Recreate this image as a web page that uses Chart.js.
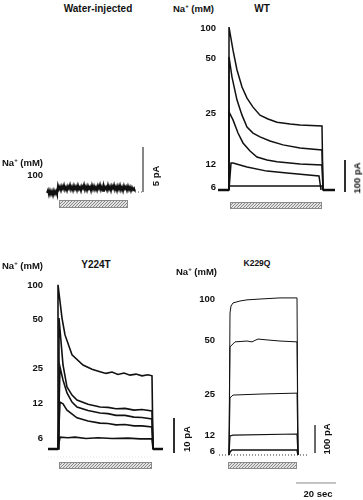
<!DOCTYPE html>
<html lang="en">
<head>
<meta charset="UTF-8" />
<title>Na+ evoked currents</title>
<script src="https://cdn.jsdelivr.net/npm/chart.js@4.4.0/dist/chart.umd.min.js"></script>
<style>
  body { margin: 0; background: #fff; }
  #fig { position: relative; width: 363px; height: 500px; overflow: hidden;
         font-family: "Liberation Sans", Arial, sans-serif; font-weight: bold; color: #111; }
  #fig canvas { position: absolute; }
  .t { position: absolute; font-size: 10px; line-height: 1; white-space: nowrap; }
  .c { transform: translate(-50%, -50%); }
  .l { transform: translateY(-50%); font-size: 9.5px; }
  .r { transform: translate(-50%, -50%) rotate(-90deg); font-size: 9.5px; }
  sup { font-size: 6px; vertical-align: 4px; }
</style>
</head>
<body>
<div id="fig">
  <canvas id="water" width="140" height="72" style="left:10px;top:140px"></canvas>
  <canvas id="wt" width="172" height="192" style="left:182px;top:20px"></canvas>
  <canvas id="y224t" width="170" height="197" style="left:10px;top:275px"></canvas>
  <canvas id="k229q" width="160" height="205" style="left:182px;top:285px"></canvas>

  <div class="t c" style="left:98px;top:9px">Water-injected</div>
  <div class="t c" style="left:262px;top:9px">WT</div>
  <div class="t c" style="left:96px;top:265px">Y224T</div>
  <div class="t c" style="left:257px;top:263px;font-size:8.5px">K229Q</div>

  <div class="t l" style="left:2px;top:162px">Na<sup>+</sup> (mM)</div>
  <div class="t l" style="left:173px;top:8px">Na<sup>+</sup> (mM)</div>
  <div class="t l" style="left:2px;top:265px">Na<sup>+</sup> (mM)</div>
  <div class="t l" style="left:176px;top:271px">Na<sup>+</sup> (mM)</div>

  <div class="t r" style="left:156px;top:176px">5 pA</div>
  <div class="t r" style="left:357px;top:178px">100 pA</div>
  <div class="t r" style="left:187px;top:439px">10 pA</div>
  <div class="t r" style="left:327px;top:439px">100 pA</div>
  <div class="t c" style="left:318px;top:494px;font-size:9.5px">20 sec</div>
</div>

<script>
// time in s (0 = Na+ applied), current in pA
const concs = ["100", "50", "25", "12", "6"];

// WT
const wt100 = [[-5.5,0],[0,0],[0,509],[2,437],[4,375],[6.5,322],[9,287],[12,259],[15.5,234],[19.5,222],[24,212],[30.5,206],[35.5,203],[46.5,200],[47,0],[53,0]];
const wt50 = [[0,0],[0,416],[1.5,353],[4,281],[6.5,234],[9,197],[12,178],[15.5,166],[20.5,153],[27,141],[35.5,131],[46.5,125],[47,0]];
const wt25 = [[0,0],[0,244],[2,219],[4.5,178],[7,147],[10.5,122],[14,103],[19,94],[24,88],[35.5,81],[46.5,78],[47,0]];
const wt12 = [[0,0],[1,84],[2,84],[9,72],[19,59],[29,53],[45,44],[46,0]];
const wt6 = [[0,0],[0,12.5],[46.5,12.5],[47,0]];

// Y224T
const y100 = [[-5,0],[0,0],[0,46.9],[2,37.4],[3.5,32.6],[7,26.9],[12.5,24],[17,22.8],[21,22.1],[24,21.6],[27,22],[30,21.3],[33,21.7],[36,21.1],[39,21.4],[42,20.9],[45,21.2],[47,20.9],[47.5,0],[52.5,0]];
const y50 = [[0,0],[0.5,37.4],[2.5,24],[4.5,17.7],[7,15.4],[9.5,14],[15,12.8],[21,12],[25,11.9],[29,11.5],[33.5,11.6],[38,11.1],[42,11.3],[47,10.9],[47.5,0]];
const y25 = [[0,0],[1,23.4],[2.5,19.7],[4.5,16],[7,13.4],[9.5,12],[15,11],[21,10.3],[25,10.1],[29,9.6],[33.5,9.6],[38,9.1],[42,9.0],[47,8.6],[47.5,0]];
const y12 = [[0,0],[1,13.4],[2.5,12.9],[4.5,11.1],[9.5,8.9],[15,8],[21,7.4],[25,7.3],[29,6.9],[33.5,7.0],[38,6.6],[42,6.6],[47,6.3],[47.5,0]];
const y6 = [[0,0],[1,3.4],[5,3.2],[8.5,3.4],[14,3.0],[20,3.2],[27,3.0],[35,3.1],[41,2.9],[47,2.9],[47.5,0]];

// K229Q
const k100 = [[0,0],[0.5,507],[1,532],[2,543],[5.5,550],[9,554],[15.5,557],[25.5,561],[34,561],[34.5,0]];
const k50 = [[0,0],[0.5,386],[3,404],[9,407],[11.5,404],[13.5,411],[14.5,414],[19,411],[25.5,407],[34,404],[34.5,0]];
const k25 = [[0,0],[0.5,204],[2,214],[17,218],[34,221],[34.5,0]];
const k12 = [[0,0],[0.5,68],[2,71],[34,75],[34.5,0]];
const k6 = [[0,0],[0.5,11],[1.5,18],[34,18],[34.5,0]];

// water-injected, 100 mM Na+
const water100 = [[-5.5,-0.1],[-5,0.2],[-4.5,-0.3],[-4,0.15],[-3.5,-0.25],[-3,0.1],[-2.5,-0.35],[-2,0.15],[-1.5,-0.2],[-1,0.1],[-0.5,-0.25],
  [0,0.7],[0.5,0.3],[1,0.6],[1.5,0.2],[2,0.65],[2.5,0.35],[3,0.75],[3.5,0.25],[4,0.55],[4.5,0.18],[5,0.65],[5.5,0.38],[6,0.78],[6.5,0.28],
  [7,0.6],[7.5,0.2],[8,0.7],[8.5,0.33],[9,0.62],[9.5,0.22],[10,0.72],[10.5,0.3],[11,0.55],[11.5,0.15],[12,0.65],[12.5,0.4],[13,0.8],
  [13.5,0.25],[14,0.6],[14.5,0.2],[15,0.68],[15.5,0.35],[16,0.58],[16.5,0.16],[17,0.72],[17.5,0.3],[18,0.66],[18.5,0.25],[19,0.55],[19.5,0.2],
  [20,0.7],[20.5,0.38],[21,0.78],[21.5,0.26],[22,0.6],[22.5,0.15],[23,0.66],[23.5,0.33],[24,0.56],[24.5,0.22],[25,0.75],[25.5,0.3],[26,0.62],
  [26.5,0.18],[27,0.68],[27.5,0.4],[28,0.78],[28.5,0.25],[29,0.58],[29.5,0.16],[30,0.66],[30.5,0.3],[31,0.72],[31.5,0.22],[32,0.55],[32.5,0.15],
  [33,0.68],[33.5,0.35],[34,0.6],[34.5,0.2],[35,0.65],[35.5,0.25],[36,0.56],[36.5,0.16],[37,0.52],[37.5,0.25],[38,0.42],[38.5,0.05]];

// Na+ application (s)
const stimWater = [0.5, 35];
const stimWT = [0.5, 46.5];
const stimY = [0.5, 47];
const stimK = [-0.5, 34];

// hatched pattern for the application bar
const pc = document.createElement("canvas");
pc.width = 3; pc.height = 3;
const pctx = pc.getContext("2d");
pctx.fillStyle = "#e2e2e2"; pctx.fillRect(0, 0, 3, 3);
pctx.strokeStyle = "#8a8a8a"; pctx.lineWidth = 1;
pctx.beginPath(); pctx.moveTo(0, 3); pctx.lineTo(3, 0); pctx.moveTo(-1, 1); pctx.lineTo(1, -1); pctx.moveTo(2, 4); pctx.lineTo(4, 2); pctx.stroke();
const hatch = pctx.createPattern(pc, "repeat");

const pts = a => a.map(p => ({ x: p[0], y: p[1] }));

function trace(a, conc, w, col) {
  return { data: pts(a), conc: conc, borderColor: col || "#111", borderWidth: w || 1.4, pointRadius: 0, clip: false };
}
function line(a, w, col, dash) {
  return { data: pts(a), borderColor: col, borderWidth: w, borderDash: dash || [], pointRadius: 0, clip: false };
}

const figPlugin = {
  id: "fig",
  afterDatasetsDraw(chart, args, o) {
    const ctx = chart.ctx, xs = chart.scales.x, ys = chart.scales.y;
    const y0 = ys.getPixelForValue(0);
    const x1 = Math.round(xs.getPixelForValue(o.stim[0])), x2 = Math.round(xs.getPixelForValue(o.stim[1]));
    const top = Math.round(y0 + o.barGap);
    ctx.save();
    ctx.fillStyle = hatch;
    ctx.fillRect(x1, top, x2 - x1, o.barH);
    ctx.strokeStyle = "#8a8a8a"; ctx.lineWidth = 1;
    ctx.strokeRect(x1 + 0.5, top + 0.5, x2 - x1 - 1, o.barH - 1);

    ctx.font = 'bold 9.5px "Liberation Sans", Arial, sans-serif';
    ctx.textAlign = "right"; ctx.textBaseline = "middle"; ctx.fillStyle = "#111";
    const lx = xs.getPixelForValue(0) - o.labelGap;
    chart.data.datasets.forEach(ds => {
      if (!ds.conc) return;
      const peak = Math.max(...ds.data.map(p => p.y));
      ctx.fillText(ds.conc, lx, ys.getPixelForValue(peak) + o.labelDy);
    });
    ctx.restore();
  }
};

function panel(id, xr, yr, datasets, o) {
  new Chart(document.getElementById(id), {
    type: "line",
    data: { datasets: datasets },
    options: {
      responsive: false, animation: false, devicePixelRatio: 1,
      layout: { padding: 0 },
      scales: {
        x: { type: "linear", min: xr[0], max: xr[1], display: false },
        y: { min: yr[0], max: yr[1], display: false }
      },
      plugins: { legend: { display: false }, tooltip: { enabled: false }, fig: o }
    },
    plugins: [figPlugin]
  });
}

panel("water", [-24, 46], [-2.22, 5.78], [
  trace(water100, concs[0], 2),
  line([[38.5, 0], [42, 0]], 1, "#555", [1, 2]),
  line([[42.5, 5], [42.5, 0]], 1, "#777")
], { stim: stimWater, barGap: 8, barH: 8, labelGap: 15, labelDy: -9 });

panel("wt", [-23.5, 62.5], [-68.75, 531.25], [
  trace(wt100, concs[0], 1.5),
  trace(wt50, concs[1], 1.5),
  trace(wt25, concs[2], 1.5),
  trace(wt12, concs[3], 1.5),
  trace(wt6, concs[4], 1.5),
  line([[-5.5, 0], [0, 0]], 2.5, "#111"),
  line([[47, 0], [53, 0]], 2.5, "#111"),
  line([[58, 93.75], [58, -6.25]], 1, "#111")
], { stim: stimWT, barGap: 12, barH: 7, labelGap: 13, labelDy: 1 });

panel("y224t", [-24, 61], [-6.57, 49.71], [
  line([[-5, -2.3], [47, -2.3]], 1, "#e4e4e4", [1, 2]),
  trace(y100, concs[0], 1.6),
  trace(y50, concs[1], 1.6),
  trace(y25, concs[2], 1.6),
  trace(y12, concs[3], 1.6),
  trace(y6, concs[4], 1.6),
  line([[-5, 0], [0, 0]], 2.5, "#111"),
  line([[47.5, 0], [52.5, 0]], 2.5, "#111"),
  line([[58, 8.86], [58, -1.14]], 1, "#111")
], { stim: stimY, barGap: 13, barH: 7, labelGap: 15, labelDy: 1 });

panel("k229q", [-23.5, 56.5], [-125, 607.1], [
  line([[-5, 0], [39, 0]], 1, "#333", [1, 2]),
  trace(k100, concs[0], 1),
  trace(k50, concs[1], 1),
  trace(k25, concs[2], 1),
  trace(k12, concs[3], 1.2),
  trace(k6, concs[4], 1.5),
  line([[43, 107], [43, 7]], 1, "#555"),
  line([[33.5, -100], [53.5, -100]], 1, "#888")
], { stim: stimK, barGap: 7, barH: 7, labelGap: 14, labelDy: 1 });
</script>
</body>
</html>
